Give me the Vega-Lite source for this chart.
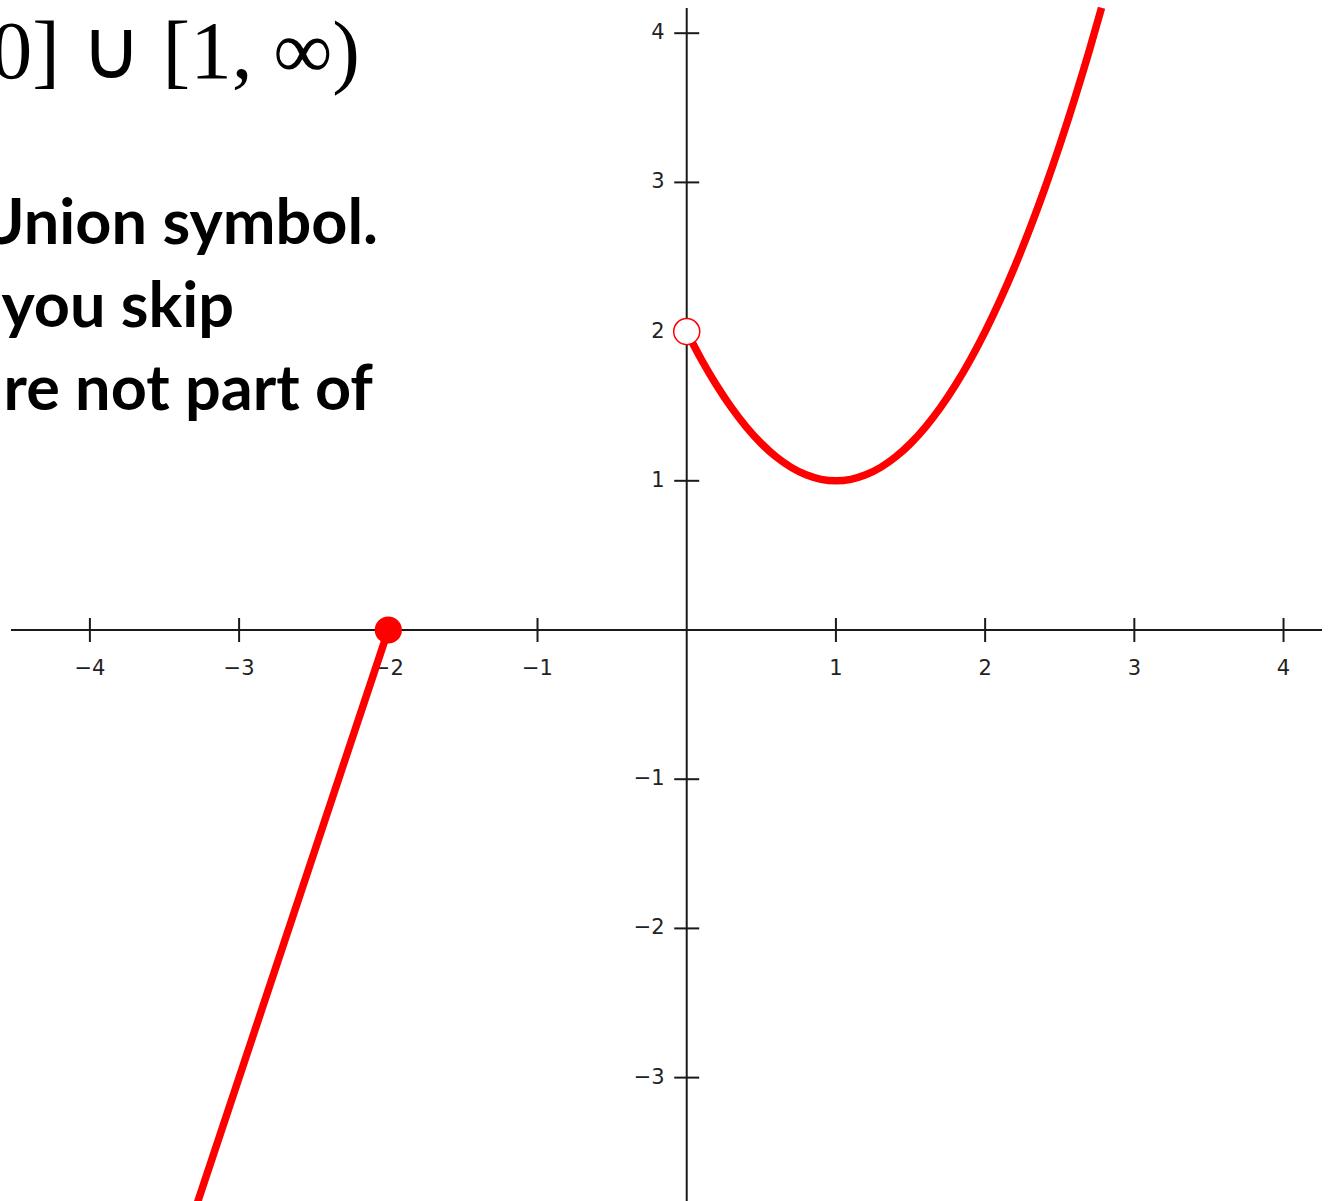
{
  "$schema": "https://vega.github.io/schema/vega-lite/v6.json",
  "width": 1328,
  "height": 1201,
  "autosize": {"type": "none"},
  "padding": 0,
  "background": "white",
  "config": {"view": {"stroke": null}},
  "data": {"values": [{}]},
  "datasets": {
    "xticks": [
      {"v": -4, "label": "−4"}, {"v": -3, "label": "−3"}, {"v": -2, "label": "−2"}, {"v": -1, "label": "−1"},
      {"v": 1, "label": "1"}, {"v": 2, "label": "2"}, {"v": 3, "label": "3"}, {"v": 4, "label": "4"}
    ],
    "yticks": [
      {"v": -3, "label": "−3"}, {"v": -2, "label": "−2"}, {"v": -1, "label": "−1"},
      {"v": 1, "label": "1"}, {"v": 2, "label": "2"}, {"v": 3, "label": "3"}, {"v": 4, "label": "4"}
    ],
    "curve": [
      {"piece": "line", "x": -3.3, "y": -3.9},
      {"piece": "line", "x": -2, "y": 0},
      {"piece": "parabola", "x": 0, "y": 2},
      {"piece": "parabola", "x": 0.1, "y": 1.81},
      {"piece": "parabola", "x": 0.2, "y": 1.64},
      {"piece": "parabola", "x": 0.3, "y": 1.49},
      {"piece": "parabola", "x": 0.4, "y": 1.36},
      {"piece": "parabola", "x": 0.5, "y": 1.25},
      {"piece": "parabola", "x": 0.6, "y": 1.16},
      {"piece": "parabola", "x": 0.7, "y": 1.09},
      {"piece": "parabola", "x": 0.8, "y": 1.04},
      {"piece": "parabola", "x": 0.9, "y": 1.01},
      {"piece": "parabola", "x": 1.0, "y": 1.0},
      {"piece": "parabola", "x": 1.1, "y": 1.01},
      {"piece": "parabola", "x": 1.2, "y": 1.04},
      {"piece": "parabola", "x": 1.3, "y": 1.09},
      {"piece": "parabola", "x": 1.4, "y": 1.16},
      {"piece": "parabola", "x": 1.5, "y": 1.25},
      {"piece": "parabola", "x": 1.6, "y": 1.36},
      {"piece": "parabola", "x": 1.7, "y": 1.49},
      {"piece": "parabola", "x": 1.8, "y": 1.64},
      {"piece": "parabola", "x": 1.9, "y": 1.81},
      {"piece": "parabola", "x": 2.0, "y": 2.0},
      {"piece": "parabola", "x": 2.1, "y": 2.21},
      {"piece": "parabola", "x": 2.2, "y": 2.44},
      {"piece": "parabola", "x": 2.3, "y": 2.69},
      {"piece": "parabola", "x": 2.4, "y": 2.96},
      {"piece": "parabola", "x": 2.5, "y": 3.25},
      {"piece": "parabola", "x": 2.6, "y": 3.56},
      {"piece": "parabola", "x": 2.7, "y": 3.89},
      {"piece": "parabola", "x": 2.78, "y": 4.17}
    ],
    "closedEnd": [{"x": -2, "y": 0}],
    "openEnd": [{"x": 0, "y": 2}]
  },
  "layer": [
    {
      "mark": {"type": "rule", "color": "#1a1a1a", "strokeWidth": 2},
      "encoding": {
        "x": {"datum": -4.529, "type": "quantitative", "scale": {"domain": [-4.6025, 4.298], "nice": false, "zero": false}, "axis": null},
        "x2": {"datum": 4.258},
        "y": {"datum": 0, "type": "quantitative", "scale": {"domain": [-3.827, 4.2225], "nice": false, "zero": false}, "axis": null}
      }
    },
    {
      "mark": {"type": "rule", "color": "#1a1a1a", "strokeWidth": 2},
      "encoding": {
        "x": {"datum": 0, "type": "quantitative", "scale": {"domain": [-4.6025, 4.298], "nice": false, "zero": false}, "axis": null},
        "y": {"datum": 4.169, "type": "quantitative", "scale": {"domain": [-3.827, 4.2225], "nice": false, "zero": false}, "axis": null},
        "y2": {"datum": -3.827}
      }
    },
    {
      "data": {"name": "xticks"},
      "mark": {"type": "rule", "color": "#1a1a1a", "strokeWidth": 2},
      "encoding": {
        "x": {"field": "v", "type": "quantitative", "scale": {"domain": [-4.6025, 4.298], "nice": false, "zero": false}, "axis": null},
        "y": {"datum": -0.0804, "type": "quantitative", "scale": {"domain": [-3.827, 4.2225], "nice": false, "zero": false}, "axis": null},
        "y2": {"datum": 0.0804}
      }
    },
    {
      "data": {"name": "xticks"},
      "mark": {"type": "text", "font": "DejaVu Sans", "fontSize": 21, "color": "#222222", "align": "center", "baseline": "middle", "dy": 39},
      "encoding": {
        "x": {"field": "v", "type": "quantitative", "scale": {"domain": [-4.6025, 4.298], "nice": false, "zero": false}, "axis": null},
        "y": {"datum": 0, "type": "quantitative", "scale": {"domain": [-3.827, 4.2225], "nice": false, "zero": false}, "axis": null},
        "text": {"field": "label"}
      }
    },
    {
      "data": {"name": "yticks"},
      "mark": {"type": "rule", "color": "#1a1a1a", "strokeWidth": 2},
      "encoding": {
        "x": {"datum": -0.0838, "type": "quantitative", "scale": {"domain": [-4.6025, 4.298], "nice": false, "zero": false}, "axis": null},
        "x2": {"datum": 0.0838},
        "y": {"field": "v", "type": "quantitative", "scale": {"domain": [-3.827, 4.2225], "nice": false, "zero": false}, "axis": null}
      }
    },
    {
      "data": {"name": "yticks"},
      "mark": {"type": "text", "font": "DejaVu Sans", "fontSize": 21, "color": "#222222", "align": "right", "baseline": "middle", "dx": -22},
      "encoding": {
        "x": {"datum": 0, "type": "quantitative", "scale": {"domain": [-4.6025, 4.298], "nice": false, "zero": false}, "axis": null},
        "y": {"field": "v", "type": "quantitative", "scale": {"domain": [-3.827, 4.2225], "nice": false, "zero": false}, "axis": null},
        "text": {"field": "label"}
      }
    },
    {
      "mark": {"type": "text", "text": "(−∞, 0] ∪ [1, ∞)", "font": "Liberation Serif", "fontSize": 83, "color": "#000000", "align": "right", "baseline": "alphabetic"},
      "encoding": {
        "x": {"datum": -2.19, "type": "quantitative", "scale": {"domain": [-4.6025, 4.298], "nice": false, "zero": false}, "axis": null},
        "y": {"datum": 3.7, "type": "quantitative", "scale": {"domain": [-3.827, 4.2225], "nice": false, "zero": false}, "axis": null}
      }
    },
    {
      "mark": {"type": "text", "text": "Union symbol.", "font": "Lato", "fontWeight": "bold", "fontSize": 63, "color": "#000000", "align": "right", "baseline": "alphabetic"},
      "encoding": {
        "x": {"datum": -2.069, "type": "quantitative", "scale": {"domain": [-4.6025, 4.298], "nice": false, "zero": false}, "axis": null},
        "y": {"datum": 2.587, "type": "quantitative", "scale": {"domain": [-3.827, 4.2225], "nice": false, "zero": false}, "axis": null}
      }
    },
    {
      "mark": {"type": "text", "text": "you skip", "font": "Lato", "fontWeight": "bold", "fontSize": 63, "color": "#000000", "align": "right", "baseline": "alphabetic"},
      "encoding": {
        "x": {"datum": -3.034, "type": "quantitative", "scale": {"domain": [-4.6025, 4.298], "nice": false, "zero": false}, "axis": null},
        "y": {"datum": 2.031, "type": "quantitative", "scale": {"domain": [-3.827, 4.2225], "nice": false, "zero": false}, "axis": null}
      }
    },
    {
      "mark": {"type": "text", "text": "re not part of", "font": "Lato", "fontWeight": "bold", "fontSize": 63, "color": "#000000", "align": "right", "baseline": "alphabetic"},
      "encoding": {
        "x": {"datum": -2.103, "type": "quantitative", "scale": {"domain": [-4.6025, 4.298], "nice": false, "zero": false}, "axis": null},
        "y": {"datum": 1.475, "type": "quantitative", "scale": {"domain": [-3.827, 4.2225], "nice": false, "zero": false}, "axis": null}
      }
    },
    {
      "data": {"name": "curve"},
      "mark": {"type": "line", "color": "#ff0000", "strokeWidth": 7.5, "interpolate": "monotone"},
      "encoding": {
        "x": {"field": "x", "type": "quantitative", "scale": {"domain": [-4.6025, 4.298], "nice": false, "zero": false}, "axis": null},
        "y": {"field": "y", "type": "quantitative", "scale": {"domain": [-3.827, 4.2225], "nice": false, "zero": false}, "axis": null},
        "detail": {"field": "piece"}
      }
    },
    {
      "data": {"name": "closedEnd"},
      "mark": {"type": "point", "shape": "circle", "filled": true, "color": "#ff0000", "opacity": 1, "size": 740},
      "encoding": {
        "x": {"field": "x", "type": "quantitative", "scale": {"domain": [-4.6025, 4.298], "nice": false, "zero": false}, "axis": null},
        "y": {"field": "y", "type": "quantitative", "scale": {"domain": [-3.827, 4.2225], "nice": false, "zero": false}, "axis": null}
      }
    },
    {
      "data": {"name": "openEnd"},
      "mark": {"type": "point", "shape": "circle", "filled": true, "fill": "#ffffff", "stroke": "#ff0000", "strokeWidth": 1.5, "opacity": 1, "size": 680},
      "encoding": {
        "x": {"field": "x", "type": "quantitative", "scale": {"domain": [-4.6025, 4.298], "nice": false, "zero": false}, "axis": null},
        "y": {"field": "y", "type": "quantitative", "scale": {"domain": [-3.827, 4.2225], "nice": false, "zero": false}, "axis": null}
      }
    }
  ]
}
